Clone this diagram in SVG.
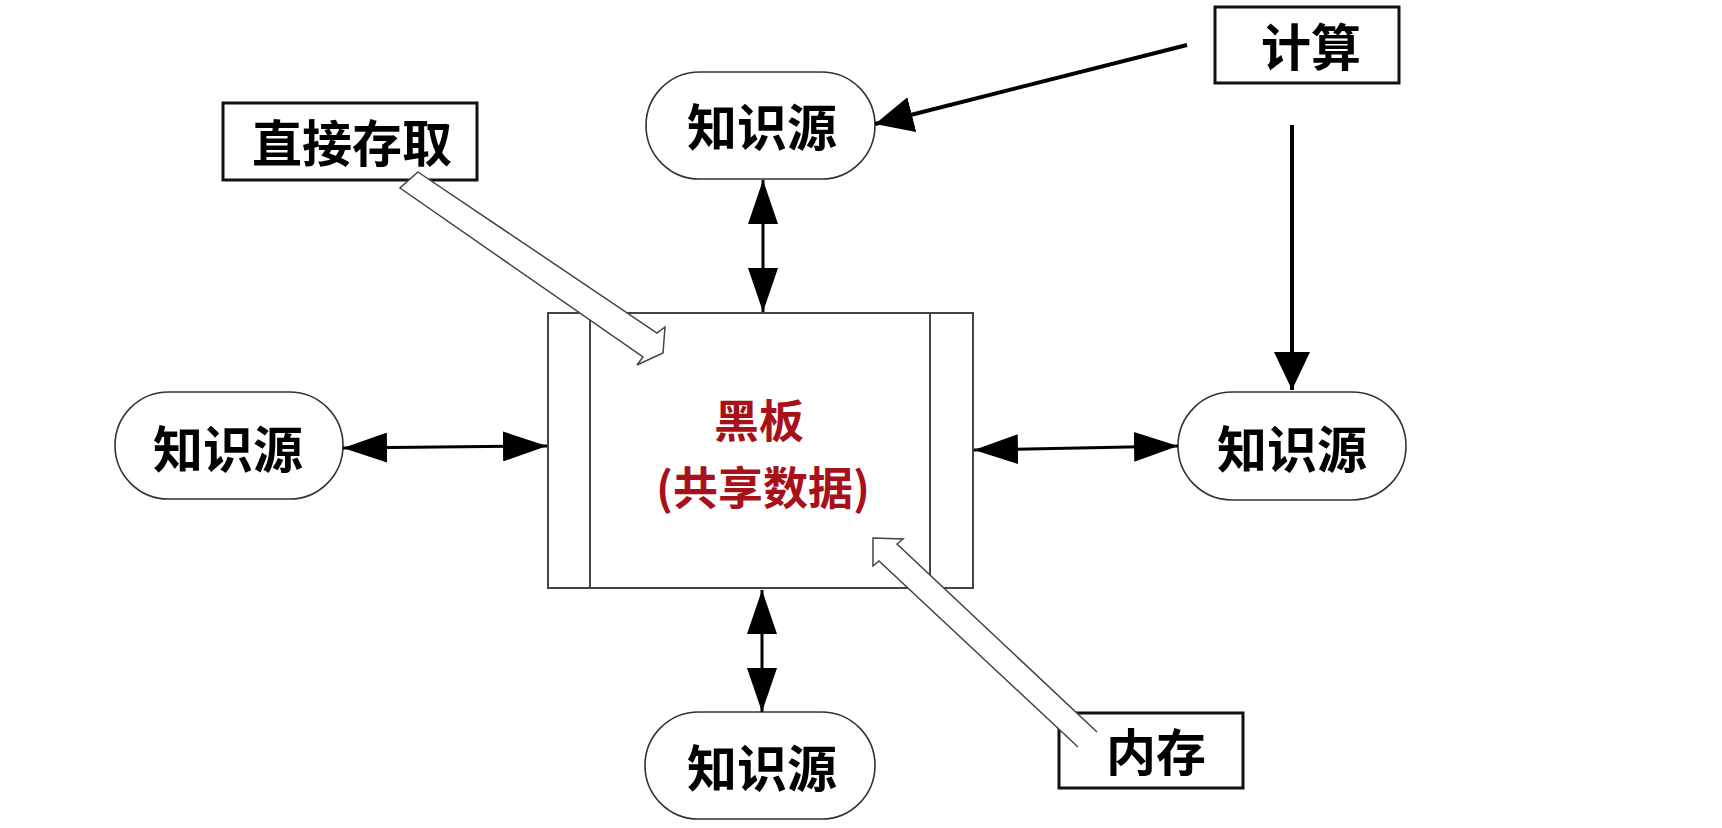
<svg xmlns="http://www.w3.org/2000/svg" width="1722" height="828" viewBox="0 0 1722 828">
<style>
.ks{fill:#fff;stroke:#333;stroke-width:1.6}
.lb{fill:#fff;stroke:#111;stroke-width:3}
.t{font-family:"Noto Sans CJK SC","Liberation Sans",sans-serif;font-weight:bold;font-size:50px;fill:#000;text-anchor:middle;dominant-baseline:central}
.rt{font-family:"Noto Sans CJK SC","Liberation Sans",sans-serif;font-weight:bold;font-size:45px;fill:#a8101a;text-anchor:middle;dominant-baseline:central}
.da{stroke:#000;stroke-width:3;fill:none;marker-start:url(#ah);marker-end:url(#ah)}
.sa{stroke:#000;stroke-width:4;fill:none;marker-end:url(#ah2)}
.ha{fill:#fff;stroke:#444;stroke-width:1.5;stroke-linejoin:miter}
</style>
<defs>
<marker id="ah" viewBox="0 0 44 30" refX="44" refY="15" markerWidth="44" markerHeight="30" markerUnits="userSpaceOnUse" orient="auto-start-reverse"><path d="M0,0 L44,15 L0,30 Z" fill="#000"/></marker>
<marker id="ah2" viewBox="0 0 38 36" refX="38" refY="18" markerWidth="38" markerHeight="36" markerUnits="userSpaceOnUse" orient="auto"><path d="M0,0 L38,18 L0,36 Z" fill="#000"/></marker>
</defs>
<rect width="1722" height="828" fill="#fff"/>

<g id="blackboard">
<rect x="548" y="313" width="425" height="275" fill="#fff" stroke="#444" stroke-width="2"/>
<line x1="590" y1="313" x2="590" y2="588" stroke="#444" stroke-width="2"/>
<line x1="930" y1="313" x2="930" y2="588" stroke="#444" stroke-width="2"/>
<text class="rt" x="759" y="418">黑板</text>
<text class="rt" x="763" y="485">(共享数据)</text>
</g>

<g id="ks-top">
<rect class="ks" x="646" y="72" width="229" height="107" rx="53.5" ry="53.5"/>
<text class="t" x="762" y="124">知识源</text>
</g>
<g id="ks-left">
<rect class="ks" x="115" y="392" width="228" height="107" rx="53.5" ry="53.5"/>
<text class="t" x="228" y="446">知识源</text>
</g>
<g id="ks-right">
<rect class="ks" x="1178" y="392" width="228" height="108" rx="54" ry="54"/>
<text class="t" x="1292" y="446">知识源</text>
</g>
<g id="ks-bottom">
<rect class="ks" x="645" y="712" width="230" height="107" rx="53.5" ry="53.5"/>
<text class="t" x="762" y="765">知识源</text>
</g>

<g id="lbl-direct">
<rect class="lb" x="223" y="103" width="254" height="77"/>
<text class="t" x="352" y="140">直接存取</text>
</g>
<g id="lbl-compute">
<rect class="lb" x="1215" y="7" width="184" height="76"/>
<text class="t" x="1311" y="44">计算</text>
</g>
<g id="lbl-memory">
<rect class="lb" x="1059" y="713" width="184" height="75"/>
<text class="t" x="1156" y="749">内存</text>
</g>

<g id="connectors">
<line class="da" x1="763" y1="180" x2="763" y2="312"/>
<line class="da" x1="762" y1="590" x2="762" y2="712"/>
<line class="da" x1="343" y1="448" x2="547" y2="446"/>
<line class="da" x1="974" y1="450" x2="1178" y2="446"/>
<line class="sa" x1="1187" y1="45" x2="875" y2="124"/>
<line class="sa" x1="1292" y1="125" x2="1292" y2="390"/>
<path class="ha" d="M418,172 L657,333 L665,327 L663,353 L637,365 L643,357 L400,188 Z"/>
<path class="ha" d="M1097,732 L897,544 L903,539 L873,538 L873,566 L879,561 L1078,747"/>
</g>
</svg>
